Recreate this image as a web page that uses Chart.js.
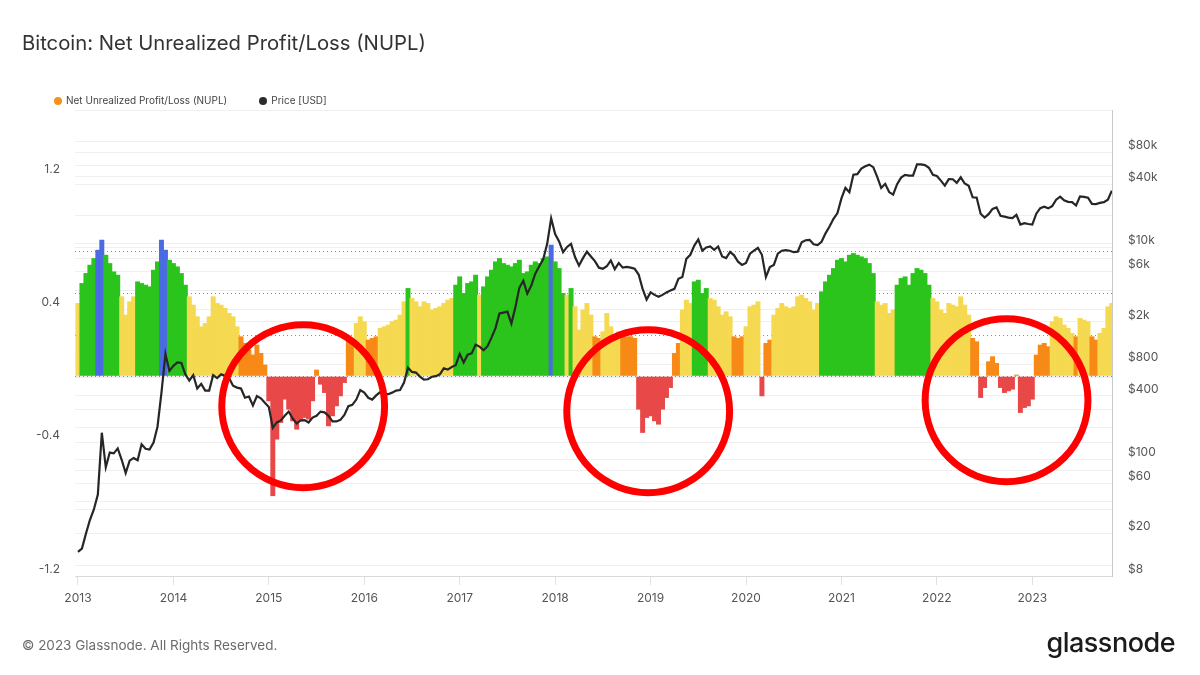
<!DOCTYPE html>
<html>
<head>
<meta charset="utf-8">
<script src="https://cdn.jsdelivr.net/npm/chart.js@4.4.0/dist/chart.umd.min.js"></script>
<style>
  html, body { margin: 0; padding: 0; background: #fff; }
  body { width: 1200px; height: 675px; position: relative; overflow: hidden; font-family: Inter, "Noto Sans", sans-serif; }
  canvas { position: absolute; left: 0; top: 0; }
  .txt { position: absolute; white-space: nowrap; z-index: 2; }
  #title { left: 22px; top: 29px; font-size: 20.3px; color: #333; line-height: 28px; }
  #legend { left: 54px; top: 93px; font-size: 10px; color: #444; line-height: 14px; }
  #legend .dot { display: inline-block; width: 8px; height: 8px; border-radius: 50%; margin-right: 4px; vertical-align: -1px; }
  #legend .item { margin-right: 32px; }
  #footer { left: 22px; top: 636px; font-size: 13.5px; color: #6b6b6b; line-height: 18px; }
  #logo { right: 25px; top: 626px; font-size: 27px; font-weight: 500; color: #1b1b1b; line-height: 34px; letter-spacing: -0.5px; }
</style>
</head>
<body>
<canvas id="chart" width="1200" height="675"></canvas>
<div class="txt" id="title">Bitcoin: Net Unrealized Profit/Loss (NUPL)</div>
<div class="txt" id="legend"><span class="item"><span class="dot" style="background:#f7931a"></span>Net Unrealized Profit/Loss (NUPL)</span><span class="item"><span class="dot" style="background:#2b2b2b"></span>Price [USD]</span></div>
<div class="txt" id="footer">© 2023 Glassnode. All Rights Reserved.</div>
<div class="txt" id="logo">glassnode</div>
<script>
// one value per half month (1st and 16th), per year
const years = [2013, 2014, 2015, 2016, 2017, 2018, 2019, 2020, 2021, 2022, 2023];

const nupl2013 = [0.44, 0.56, 0.62, 0.67, 0.71, 0.76, 0.82, 0.73, 0.68, 0.63, 0.61, 0.48, 0.37, 0.45, 0.48, 0.57, 0.56, 0.55, 0.54, 0.64, 0.69, 0.82, 0.76, 0.70];
const nupl2014 = [0.68, 0.66, 0.62, 0.55, 0.48, 0.43, 0.36, 0.30, 0.32, 0.36, 0.48, 0.44, 0.43, 0.41, 0.38, 0.36, 0.30, 0.24, 0.20, 0.16, 0.13, 0.19, 0.14, 0.07];
const nupl2015 = [-0.15, -0.72, -0.38, -0.28, -0.14, -0.20, -0.27, -0.32, -0.27, -0.25, -0.26, -0.15, 0.04, -0.05, -0.10, -0.30, -0.24, -0.18, -0.12, -0.04, 0.22, 0.20, 0.32, 0.36];
const nupl2016 = [0.33, 0.22, 0.23, 0.24, 0.29, 0.30, 0.31, 0.33, 0.34, 0.37, 0.45, 0.53, 0.47, 0.45, 0.42, 0.45, 0.44, 0.40, 0.41, 0.42, 0.44, 0.46, 0.47, 0.55];
const nupl2017 = [0.60, 0.50, 0.56, 0.57, 0.61, 0.49, 0.54, 0.60, 0.64, 0.69, 0.71, 0.68, 0.67, 0.66, 0.68, 0.70, 0.62, 0.63, 0.67, 0.69, 0.68, 0.71, 0.72, 0.79];
const nupl2018 = [0.69, 0.65, 0.50, 0.49, 0.53, 0.42, 0.28, 0.40, 0.44, 0.37, 0.24, 0.23, 0.27, 0.38, 0.30, 0.25, 0.27, 0.24, 0.24, 0.24, 0.23, -0.20, -0.34, -0.25];
const nupl2019 = [-0.24, -0.27, -0.29, -0.20, -0.13, -0.07, 0.14, 0.20, 0.40, 0.46, 0.44, 0.57, 0.58, 0.50, 0.53, 0.47, 0.46, 0.42, 0.37, 0.39, 0.36, 0.24, 0.23, 0.24];
const nupl2020 = [0.30, 0.42, 0.43, 0.45, -0.12, 0.20, 0.22, 0.37, 0.41, 0.44, 0.42, 0.41, 0.42, 0.48, 0.49, 0.47, 0.45, 0.40, 0.44, 0.51, 0.57, 0.61, 0.65, 0.70];
const nupl2021 = [0.71, 0.69, 0.73, 0.74, 0.73, 0.72, 0.71, 0.68, 0.62, 0.45, 0.43, 0.44, 0.38, 0.40, 0.55, 0.59, 0.60, 0.55, 0.62, 0.65, 0.64, 0.62, 0.55, 0.47];
const nupl2022 = [0.45, 0.40, 0.38, 0.44, 0.43, 0.42, 0.48, 0.43, 0.37, 0.23, 0.21, -0.13, -0.07, 0.09, 0.12, 0.08, -0.07, -0.10, -0.09, -0.08, 0.01, -0.22, -0.19, -0.18];
const nupl2023 = [-0.14, 0.13, 0.19, 0.20, 0.18, 0.33, 0.36, 0.35, 0.31, 0.29, 0.26, 0.24, 0.35, 0.34, 0.33, 0.24, 0.22, 0.26, 0.29, 0.42, 0.44];

const price2013 = [13.5, 14.5, 20, 27, 34, 47, 180, 85, 117, 115, 128, 100, 75, 98, 104, 99, 140, 127, 125, 145, 205, 430, 1000, 690];
const price2014 = [770, 830, 820, 640, 560, 630, 470, 520, 450, 450, 630, 590, 640, 620, 590, 500, 480, 470, 385, 395, 325, 400, 380, 345];
const price2015 = [315, 200, 225, 235, 260, 285, 245, 220, 235, 237, 225, 250, 260, 285, 280, 260, 230, 230, 238, 265, 320, 330, 370, 455];
const price2016 = [430, 385, 370, 405, 435, 415, 416, 430, 450, 455, 535, 740, 675, 665, 610, 570, 575, 607, 615, 640, 730, 710, 750, 780];
const price2017 = [1000, 830, 980, 1010, 1220, 1170, 1080, 1180, 1420, 1750, 2400, 2450, 2500, 1930, 2750, 4200, 4900, 3700, 4400, 5700, 6700, 7800, 10900, 19000];
const price2018 = [13500, 11500, 9100, 10200, 10900, 8200, 6800, 8000, 9200, 8300, 7500, 6500, 6350, 6700, 7600, 6300, 7200, 6500, 6600, 6500, 6350, 5600, 4100, 3250];
const price2019 = [3800, 3600, 3450, 3600, 3800, 3950, 4100, 5100, 5300, 7900, 8600, 10500, 12000, 9400, 10100, 10300, 9600, 10300, 8300, 8000, 9150, 8500, 7400, 6900];
const price2020 = [7200, 8800, 9400, 10000, 8600, 5300, 6600, 6900, 8800, 9400, 9500, 9400, 9100, 9200, 11300, 11800, 11900, 10800, 10600, 11400, 13700, 15900, 18800, 21300];
const price2021 = [29300, 36800, 33500, 49000, 49600, 56000, 58800, 61000, 57800, 46700, 36700, 40200, 33600, 31800, 39900, 46000, 48800, 48100, 48100, 61500, 61300, 60400, 57000, 48900];
const price2022 = [47700, 43100, 38700, 44500, 44400, 41000, 46300, 40500, 38500, 30000, 29800, 21000, 19300, 20800, 23300, 24100, 20100, 19700, 19300, 19100, 20500, 16600, 17100, 16800];
const price2023 = [16600, 21000, 23700, 24500, 23600, 24800, 28500, 30400, 28100, 27200, 27000, 25100, 30600, 30300, 29700, 26000, 25900, 26600, 27000, 28500, 34600];

const nuplByYear = [nupl2013, nupl2014, nupl2015, nupl2016, nupl2017, nupl2018, nupl2019, nupl2020, nupl2021, nupl2022, nupl2023];
const priceByYear = [price2013, price2014, price2015, price2016, price2017, price2018, price2019, price2020, price2021, price2022, price2023];

// NUPL zones: capitulation / hope / optimism / belief / euphoria
const zoneLimits = [0, 0.25, 0.5, 0.75];
const zoneColors = ['#e84848', '#f78a16', '#f4d951', '#2bc41c', '#4a6be2'];

const nuplTicks = [1.2, 0.4, -0.4, -1.2];
const priceGrid = [8, 10, 20, 40, 60, 80, 100, 200, 300, 400, 600, 800, 1000, 2000, 4000, 6000, 8000, 10000, 20000, 40000, 60000, 80000, 100000];
const priceLabels = [8, 20, 60, 100, 400, 800, 2000, 6000, 10000, 40000, 80000];

// red circles drawn over the three bear markets (date, nupl, radius in years)
const highlightDates = [2015.36, 2018.975, 2022.73];
const highlightNupl = [-0.18, -0.21, -0.144];
const highlightRadius = 0.853;

function zoneColor(v) {
    let i = 0;
    while (i < zoneLimits.length && v >= zoneLimits[i]) i++;
    return zoneColors[i];
}

const nuplPoints = [];
const pricePoints = [];
nuplByYear.forEach((arr, i) => {
    arr.forEach((v, k) => {
        const t = years[i] + k / 24;
        nuplPoints.push({ x: t, y: v });
        pricePoints.push({ x: t, y: priceByYear[i][k] });
    });
});

const refLines = {
    id: 'refLines',
    beforeDatasetsDraw(chart) {
        const { ctx, chartArea, scales } = chart;
        ctx.save();
        ctx.strokeStyle = '#8c8c8c';
        ctx.lineWidth = 1;
        ctx.setLineDash([1, 3]);
        zoneLimits.forEach(v => {
            const py = Math.round(scales.y.getPixelForValue(v)) + 0.5;
            ctx.beginPath();
            ctx.moveTo(chartArea.left, py);
            ctx.lineTo(chartArea.right, py);
            ctx.stroke();
        });
        ctx.restore();
    }
};

const circles = {
    id: 'circles',
    afterDatasetsDraw(chart) {
        const { ctx, scales } = chart;
        ctx.save();
        ctx.strokeStyle = '#ff0000';
        ctx.lineWidth = 7;
        highlightDates.forEach((d, i) => {
            const cx = scales.x.getPixelForValue(d);
            const cy = scales.y.getPixelForValue(highlightNupl[i]);
            const r = scales.x.getPixelForValue(d + highlightRadius) - cx;
            ctx.beginPath();
            ctx.arc(cx, cy, r, 0, Math.PI * 2);
            ctx.stroke();
        });
        ctx.restore();
    }
};

const tickFont = { family: 'Inter', size: 12 };

new Chart(document.getElementById('chart'), {
    type: 'bar',
    data: {
        datasets: [{
            type: 'line',
            label: 'Price [USD]',
            data: pricePoints,
            yAxisID: 'yp',
            borderColor: '#262626',
            borderWidth: 2.2,
            pointRadius: 0,
            tension: 0,
            order: 0
        }, {
            type: 'bar',
            label: 'Net Unrealized Profit/Loss (NUPL)',
            data: nuplPoints,
            yAxisID: 'y',
            backgroundColor: nuplPoints.map(p => zoneColor(p.y)),
            barPercentage: 1.25,
            categoryPercentage: 1,
            borderWidth: 0,
            inflateAmount: 0,
            order: 1
        }]
    },
    options: {
        responsive: false,
        animation: false,
        layout: { padding: { top: 110, left: 22, right: 0, bottom: 49 } },
        plugins: { legend: { display: false }, tooltip: { enabled: false } },
        scales: {
            x: {
                type: 'linear',
                min: 2012.969,
                max: 2023.835,
                offset: false,
                grid: { offset: false, drawOnChartArea: false, drawTicks: true, tickLength: 9, color: '#e0e0e0' },
                border: { color: '#d9d9d9', width: 1 },
                ticks: { color: '#555', font: tickFont, padding: 6, maxRotation: 0, autoSkip: false, callback: v => String(v) },
                afterBuildTicks: s => { s.ticks = years.map(v => ({ value: v })); },
                afterFit: s => { s.height = 50; }
            },
            y: {
                position: 'left',
                min: -1.2,
                max: 1.6,
                grid: { color: '#efefef', drawTicks: false },
                border: { display: false },
                ticks: {
                    stepSize: 0.4,
                    color: '#555',
                    font: tickFont,
                    padding: 15,
                    labelOffset: -7,
                    callback: v => nuplTicks.some(t => Math.abs(t - v) < 1e-6) ? String(Math.round(v * 10) / 10) : ''
                },
                afterFit: s => { s.width = 53; }
            },
            yp: {
                type: 'logarithmic',
                position: 'right',
                min: 8,
                max: 200000,
                grid: { color: '#efefef', drawTicks: false },
                border: { display: true, color: '#c8c8c8' },
                ticks: {
                    color: '#555',
                    font: tickFont,
                    padding: 16,
                    labelOffset: -7,
                    autoSkip: false,
                    callback: v => {
                        if (!priceLabels.includes(v)) return '';
                        return v >= 1000 ? '$' + (v / 1000) + 'k' : '$' + v;
                    }
                },
                afterBuildTicks: s => { s.ticks = priceGrid.map(v => ({ value: v })); },
                afterFit: s => { s.width = 88; }
            }
        }
    },
    plugins: [refLines, circles]
});
</script>
</body>
</html>
